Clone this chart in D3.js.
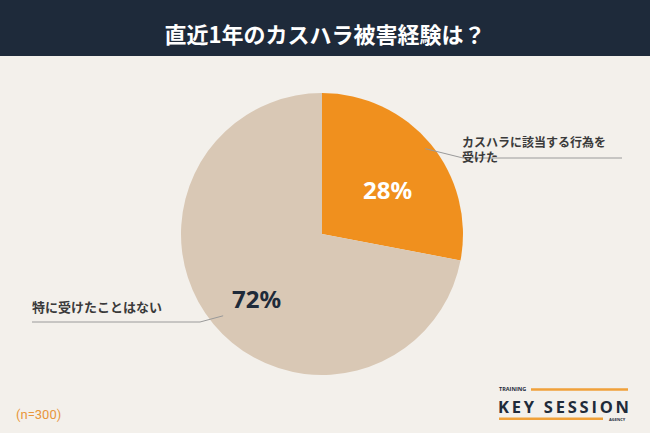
<!DOCTYPE html>
<html lang="ja">
<head>
<meta charset="utf-8">
<script src="https://cdn.jsdelivr.net/npm/d3@7"></script>
<style>
  html, body { margin: 0; padding: 0; background: #f3f0eb; }
  svg { display: block; }
</style>
</head>
<body>
<div id="chart"></div>
<script>
// Data
const categories = ["カスハラに該当する行為を\n受けた", "特に受けたことはない"];
const values = [28, 72];
const sliceColors = ["#f0901e", "#d9c8b5"];
const valueColors = ["#ffffff", "#1f2b3a"];
const titleText = "直近1年のカスハラ被害経験は？";
const sampleText = "(n=300)";

const width = 650, height = 433;
const cx = 322, cy = 234, radius = 141;
const jp = "'Noto Sans CJK JP', 'Noto Sans', sans-serif";

const svg = d3.select("#chart")
    .append("svg")
    .attr("width", width)
    .attr("height", height);

// background + title bar
svg.append("rect")
    .attr("width", width).attr("height", height)
    .attr("fill", "#f3f0eb");

svg.append("rect")
    .attr("width", width).attr("height", 56)
    .attr("fill", "#1e2a3a");

svg.append("text")
    .attr("x", width / 2)
    .attr("y", 33)
    .attr("text-anchor", "middle")
    .attr("dominant-baseline", "central")
    .attr("fill", "#ffffff")
    .style("font-family", jp)
    .style("font-weight", 700)
    .style("font-size", "22px")
    .text(titleText);

// pie
const pie = d3.pie().sort(null).value(d => d)(values);
const arc = d3.arc().innerRadius(0).outerRadius(radius);
const labelArc = d3.arc().innerRadius(85).outerRadius(85);

const g = svg.append("g").attr("transform", `translate(${cx}, ${cy})`);

g.selectAll("path.slice")
    .data(pie)
    .enter().append("path")
    .attr("class", "slice")
    .attr("d", arc)
    .attr("fill", (d, i) => sliceColors[i]);

g.selectAll("text.value")
    .data(pie)
    .enter().append("text")
    .attr("class", "value")
    .attr("transform", d => {
        const c = labelArc.centroid(d);
        return `translate(${c[0]}, ${c[1] + 10})`;
    })
    .attr("text-anchor", "middle")
    .attr("dominant-baseline", "central")
    .attr("fill", (d, i) => valueColors[i])
    .style("font-family", "'Noto Sans', sans-serif")
    .style("font-weight", 700)
    .style("font-size", "24px")
    .text(d => d.data + "%");

// leader lines and category labels
const leaders = [
    { startR: 0.95, bendX: 463, bendY: 158, endX: 622, textX: 462, textY: 141, size: 12 },
    { startR: 0.91, bendX: 200, bendY: 322, endX: 32, textX: 32, textY: 306.5, size: 13 }
];

pie.forEach((d, i) => {
    const L = leaders[i];
    const mid = (d.startAngle + d.endAngle) / 2;
    const sx = cx + Math.sin(mid) * radius * L.startR;
    const sy = cy - Math.cos(mid) * radius * L.startR;

    svg.append("path")
        .attr("d", d3.line()([[sx, sy], [L.bendX, L.bendY], [L.endX, L.bendY]]))
        .attr("fill", "none")
        .attr("stroke", "#9a9a9a")
        .attr("stroke-width", 1);

    const t = svg.append("text")
        .attr("x", L.textX)
        .attr("y", L.textY)
        .attr("fill", "#3a3a3a")
        .style("font-family", jp)
        .style("font-weight", 700)
        .style("font-size", L.size + "px");

    categories[i].split("\n").forEach((line, j) => {
        t.append("tspan")
            .attr("x", L.textX)
            .attr("y", L.textY + j * 15.5)
            .attr("dominant-baseline", "central")
            .text(line);
    });
});

// sample size
svg.append("text")
    .attr("x", 16)
    .attr("y", 414.5)
    .attr("dominant-baseline", "central")
    .attr("fill", "#e8963a")
    .style("font-family", "Roboto, sans-serif")
    .style("font-size", "13px")
    .text(sampleText);

// logo
const logo = svg.append("g");
logo.append("text")
    .attr("x", 499).attr("y", 388.5)
    .attr("dominant-baseline", "central")
    .attr("fill", "#1f2b3a")
    .style("font-family", "'Open Sans', sans-serif")
    .style("font-weight", 700)
    .style("font-size", "5.5px")
    .text("TRAINING");
logo.append("line")
    .attr("x1", 531).attr("x2", 628)
    .attr("y1", 389.5).attr("y2", 389.5)
    .attr("stroke", "#f0a13a").attr("stroke-width", 2.5);
logo.append("text")
    .attr("x", 498).attr("y", 412.5)
    .attr("textLength", 131)
    .attr("lengthAdjust", "spacing")
    .attr("fill", "#1f2b3a")
    .style("font-family", "'Open Sans', sans-serif")
    .style("font-weight", 700)
    .style("font-size", "16.5px")
    .text("KEY SESSION");
logo.append("line")
    .attr("x1", 499).attr("x2", 603)
    .attr("y1", 418.8).attr("y2", 418.8)
    .attr("stroke", "#f0a13a").attr("stroke-width", 2.5);
logo.append("text")
    .attr("x", 609).attr("y", 419)
    .attr("dominant-baseline", "central")
    .attr("fill", "#1f2b3a")
    .style("font-family", "'Open Sans', sans-serif")
    .style("font-weight", 700)
    .style("font-size", "4px")
    .text("AGENCY");
</script>
</body>
</html>
